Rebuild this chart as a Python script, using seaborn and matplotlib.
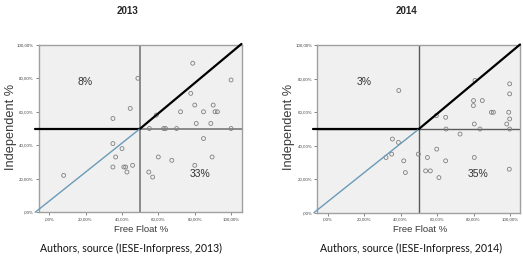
import matplotlib
matplotlib.use("Agg")
import matplotlib.pyplot as plt
import seaborn as sns
import pandas as pd

# Free float % vs independent directors %
ff_2013 = [8, 35, 35, 36.5, 35, 40, 41, 42, 42.7, 44.5, 45.8, 48.7, 54.7, 56.8, 55,
           58.8, 59.9, 62.8, 63.9, 67.3, 69.9, 72.1, 77.7, 78.8, 79.9, 79.9, 80.7,
           84.7, 84.7, 88.7, 89.4, 90, 91, 92.3, 99.8, 99.8]
ind_2013 = [22, 41, 56, 33, 27, 38, 27, 27, 24, 62, 28, 80, 24, 21, 50,
            58, 33, 50, 50, 31, 50, 60, 71, 89, 64, 28, 53,
            60, 44, 53, 33, 64, 60, 60, 79, 50]

ff_2014 = [39, 35.5, 38.8, 35.1, 32, 41.7, 42.6, 49.7, 54.7, 59.8, 53.7, 56.3, 61,
           64.7, 59.6, 64.7, 64.9, 72.6, 79.9, 80, 80.8, 80.4, 80.4, 83.5, 84.8,
           89.8, 90.9, 98.2, 99.3, 99.8, 99.8, 99.8, 99.8, 99.6]
ind_2014 = [73, 44, 42, 35, 33, 31, 24, 35, 33, 38, 25, 25, 21,
            31, 58, 57, 50, 47, 64, 67, 79, 53, 33, 50, 67,
            60, 60, 53, 60, 77, 71, 56, 50, 26]

years = ["2013", "2014"]
share_upper_left = ["8%", "3%"]
share_lower_right = ["33%", "35%"]
ticks = [0, 20, 40, 60, 80, 100]
tick_labels = [",00%", "20,00%", "40,00%", "60,00%", "80,00%", "100,00%"]

sns.set_style("white")
plt.rcParams['font.family'] = ['Liberation Sans', 'DejaVu Sans']

fig = plt.figure(figsize=(5.23, 2.56), dpi=100)
axes_pos = [[0.074, 0.171, 0.388, 0.654], [0.6067, 0.169, 0.388, 0.654]]
title_x = [127.7, 406.5]
caption_x = [131.5, 411.3]
ref_color = ["#8a8a8a", "#5a5a5a"]
ref_lw = [1.4, 1.0]

data = [(ff_2013, ind_2013), (ff_2014, ind_2014)]

for i, (ff, ind) in enumerate(data):
    ax = fig.add_axes(axes_pos[i])
    df = pd.DataFrame({"Free Float %": ff, "Independent %": ind})
    ax.set_facecolor("#f0f0f0")

    # reference lines at 50%
    ax.axvline(50, color=ref_color[i], lw=ref_lw[i], zorder=1)
    ax.axhline(50, color=ref_color[i], lw=ref_lw[i], zorder=1)

    sns.scatterplot(data=df, x="Free Float %", y="Independent %", ax=ax,
                    marker="o", s=8, facecolors="none", edgecolor="#808080",
                    linewidth=0.6, zorder=3)

    # threshold lines
    ax.plot([-7.8, 50], [50, 50], color="black", lw=1.6, clip_on=False, zorder=4)
    ax.plot([-7.6, 50], [0, 50], color="#6a9ab8", lw=1.0, clip_on=False, zorder=4)
    ax.plot([50, 105.5], [50, 100.5], color="black", lw=1.6, clip_on=False, zorder=4)

    ax.text(20, 78, share_upper_left[i], fontsize=7.5, color="#333333",
            ha="center", va="center")
    ax.text(82.6, 23, share_lower_right[i], fontsize=7.5, color="#333333",
            ha="center", va="center")

    ax.set_xlim(-5.7, 105.6)
    ax.set_ylim(0, 100)
    ax.set_xticks(ticks)
    ax.set_xticklabels(tick_labels)
    ax.set_yticks(ticks)
    ax.set_yticklabels(tick_labels)
    ax.tick_params(axis="both", labelsize=3.2, length=2, width=0.5,
                   color="#555555", labelcolor="#444444", pad=1.5, direction="out")
    ax.tick_params(left=True, bottom=True)
    for s in ax.spines.values():
        s.set_color("#a0a0a0")
        s.set_linewidth(1.0)

    ax.set_xlabel("")
    ax.set_ylabel("")

    x0 = axes_pos[i][0] * 523
    x1 = x0 + axes_pos[i][2] * 523
    fig.text(((x0 + x1) / 2 + 1) / 523, 1 - 230 / 256, "Free Float %", fontsize=6.8,
             ha="center", va="center", color="#3a3a3a")
    fig.text((x0 - 28) / 523, 1 - 127 / 256, "Independent %", fontsize=9.2,
             rotation=90, ha="center", va="center", color="#3a3a3a")
    fig.text(title_x[i] / 523, 1 - 10.5 / 256, years[i], fontsize=7,
             fontweight="bold", ha="center", va="center")
    fig.text(caption_x[i] / 523, 1 - 248.5 / 256,
             "Authors, source (IESE-Inforpress, " + years[i] + ")",
             fontsize=7.6, family=["Lato", "DejaVu Sans"],
             ha="center", va="center", color="#111111")

fig.savefig("out.png", dpi=100)
